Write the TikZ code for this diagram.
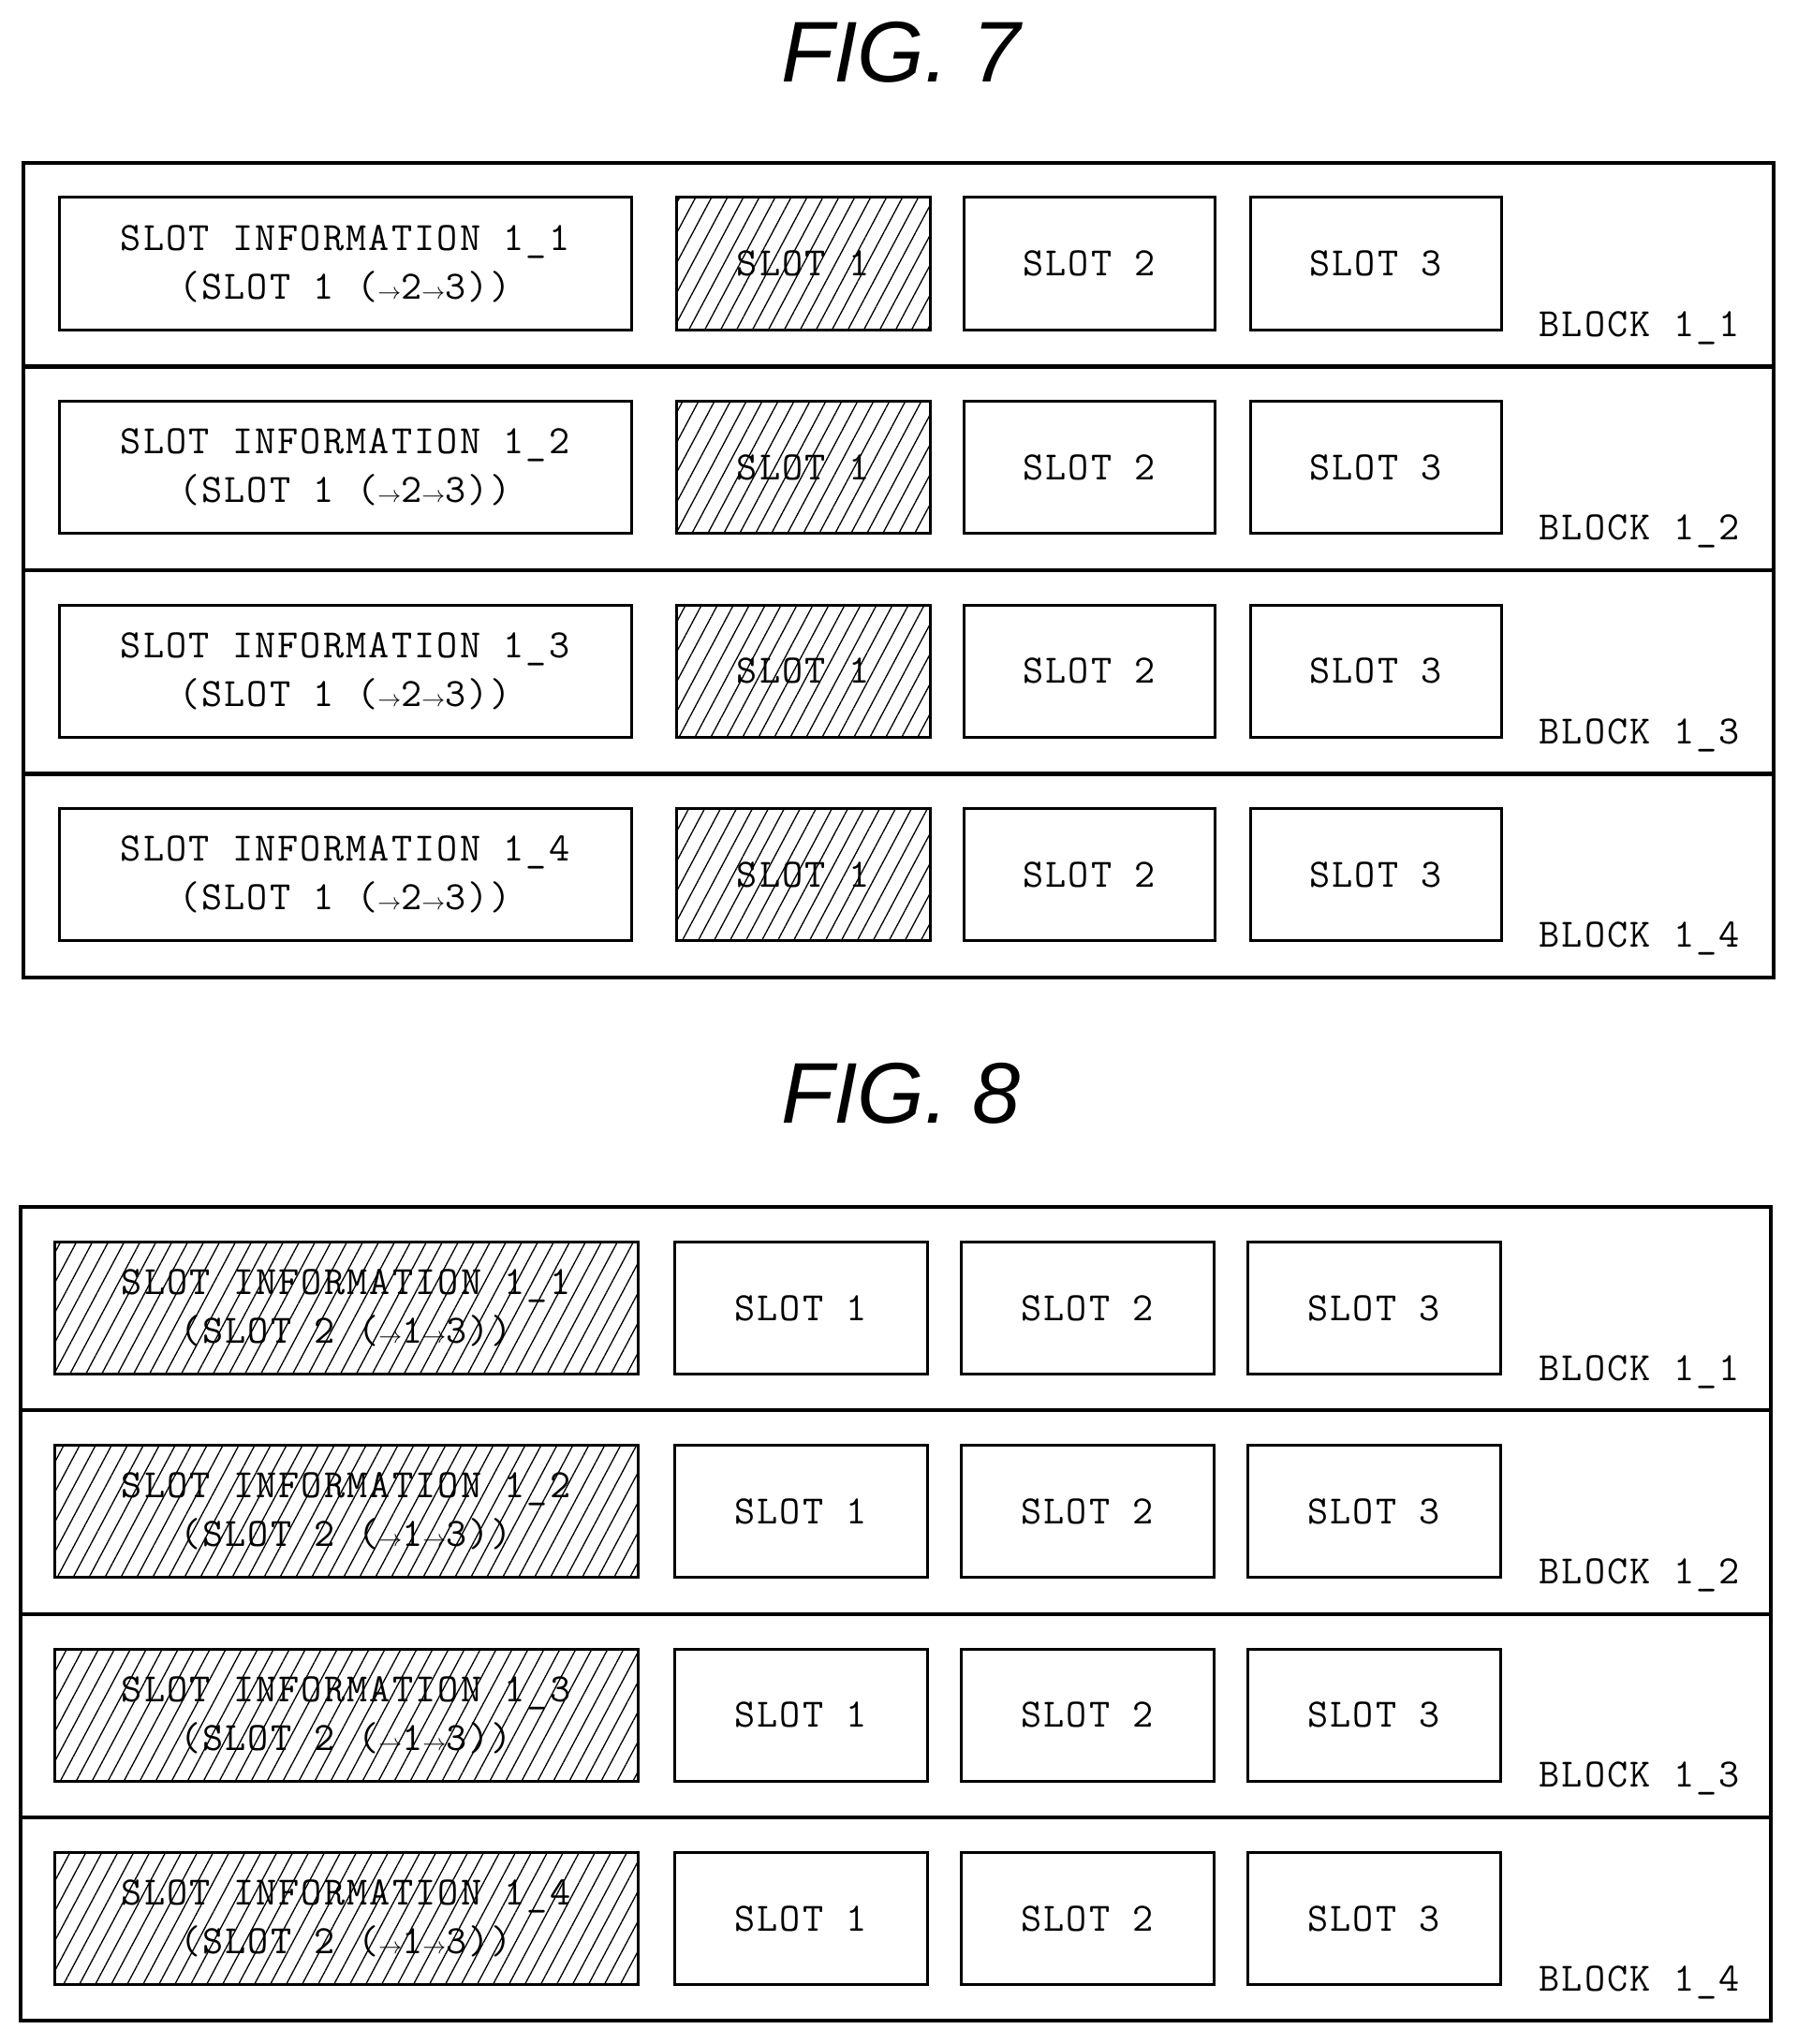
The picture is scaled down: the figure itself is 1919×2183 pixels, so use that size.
\documentclass[tikz,border=0pt]{standalone}
\usepackage{fontspec}
\newfontfamily\figfont{Liberation Sans}
\newfontfamily\slotfont[LetterSpace=5]{Latin Modern Mono}
\usetikzlibrary{patterns.meta,positioning}
\tikzset{
  x=1pt,y=-1pt,
  blk/.style={draw,line width=4.2pt},
  slot/.style={draw,line width=3pt,minimum height=141pt,inner sep=0pt,
    font=\slotfont\fontsize{43}{52}\selectfont,align=center},
  hatched/.style={pattern={Lines[angle=62,distance=15pt,line width=1.3pt]}},
  blklabel/.style={anchor=south east,inner sep=0pt,font=\slotfont\fontsize{43}{44}\selectfont},
  fig/.style={font=\figfont\itshape\fontsize{92}{100}\selectfont}
}
\newcommand{\ar}{{\fontsize{28}{28}\selectfont$\rightarrow$}}
\begin{document}
\begin{tikzpicture}
\useasboundingbox (0,0) rectangle (1919,2183);
\node[fig] (fig7) at (962,56) {FIG. 7};
\node[fig] (fig8) at (962,1168) {FIG. 8};
% FIG. 7
\foreach \i in {1,...,4}{
  \pgfmathsetmacro{\top}{174+(\i-1)*217.5}
  \draw[blk] (25,\top) rectangle (1894,\top+217.5);
  \node[slot,minimum width=611pt] (info7\i) at (368.5,\top+107.5)
    {SLOT INFORMATION 1\_\i\\(SLOT 1 (\ar2\ar3))};
  \node[slot,hatched,minimum width=271pt] (s7a\i) at (857.5,\top+107.5) {SLOT 1};
  \node[slot,minimum width=268pt] (s7b\i) at (1163,\top+107.5) {SLOT 2};
  \node[slot,minimum width=268pt] (s7c\i) at (1469,\top+107.5) {SLOT 3};
  \node[blklabel] (b7\i) at (1858,\top+194) {BLOCK 1\_\i};
}
% FIG. 8
\foreach \i in {1,...,4}{
  \pgfmathsetmacro{\top}{1289+(\i-1)*217.3}
  \draw[blk] (22,\top) rectangle (1891,\top+217.3);
  \node[slot,hatched,minimum width=623pt] (info8\i) at (369.5,\top+108)
    {SLOT INFORMATION 1\_\i\\(SLOT 2 (\ar1\ar3))};
  \node[slot,minimum width=270pt] (s8a\i) at (855,\top+108) {SLOT 1};
  \node[slot,minimum width=270pt] (s8b\i) at (1161,\top+108) {SLOT 2};
  \node[slot,minimum width=270pt] (s8c\i) at (1467,\top+108) {SLOT 3};
  \node[blklabel] (b8\i) at (1858,\top+194) {BLOCK 1\_\i};
}
\end{tikzpicture}
\end{document}
